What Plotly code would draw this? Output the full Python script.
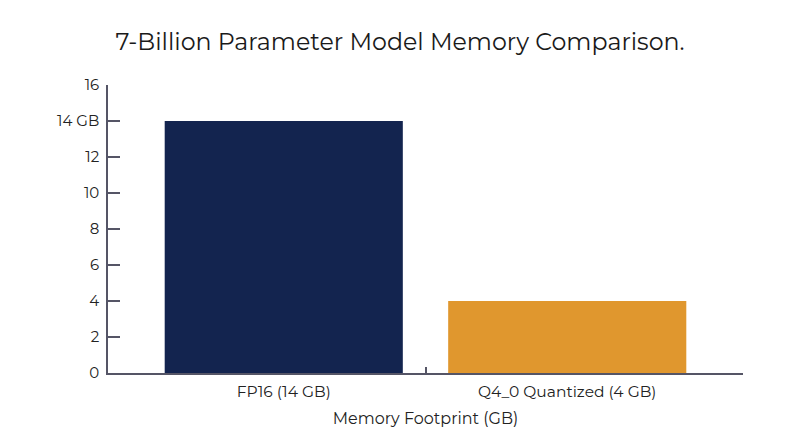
import plotly.graph_objects as go

categories = ["FP16 (14 GB)", "Q4_0 Quantized (4 GB)"]
memory_gb = [14, 4]
bar_colors = ["#13244f", "#e0972e"]
y_tick_vals = [0, 2, 4, 6, 8, 10, 12, 14, 16]
y_tick_text = ["0", "2", "4", "6", "8", "10", "12", "14 GB", "16"]

font_family = "Montserrat, Open Sans, sans-serif"
axis_color = "#555566"
x_range = [-0.62, 1.62]

fig = go.Figure()
fig.add_trace(
    go.Bar(x=categories, y=memory_gb, marker=dict(color=bar_colors, line=dict(width=0)))
)
# empty helper trace so the overlay axis (tick marks only) gets drawn
fig.add_trace(
    go.Scatter(x=x_range, y=[0, 0], xaxis="x2", mode="none", hoverinfo="skip", showlegend=False)
)

# page body has an 8px margin, so the figure fills roughly 784x431
fig.update_layout(
    template="simple_white",
    paper_bgcolor="white",
    plot_bgcolor="white",
    margin=dict(l=100, r=49, t=77, b=66),
    bargap=0.16,
    showlegend=False,
    font=dict(family=font_family, color="#222222"),
    title=dict(
        text="7-Billion Parameter Model Memory Comparison.",
        x=0.5,
        xanchor="center",
        y=0.921,
        yanchor="middle",
        font=dict(size=23.7, family=font_family, color="#1a1a1a"),
    ),
    xaxis=dict(
        range=x_range,
        title=dict(text="Memory Footprint (GB)", font=dict(size=16), standoff=12),
        showline=True,
        linecolor=axis_color,
        linewidth=1.5,
        ticks="",
        ticklabelstandoff=4,
        tickfont=dict(size=15.5),
        showgrid=False,
        zeroline=False,
    ),
    xaxis2=dict(
        overlaying="x",
        anchor="y",
        side="bottom",
        range=x_range,
        tickvals=[0.5, 1.617],
        ticktext=["", ""],
        ticks="inside",
        ticklen=6,
        tickwidth=1.5,
        tickcolor=axis_color,
        showline=False,
        showgrid=False,
        zeroline=False,
    ),
    yaxis=dict(
        range=[0, 16],
        tickvals=y_tick_vals,
        ticktext=y_tick_text,
        showline=True,
        linecolor=axis_color,
        linewidth=1.5,
        ticks="inside",
        ticklen=12,
        tickwidth=1.5,
        tickcolor=axis_color,
        tickfont=dict(size=15),
        ticklabelstandoff=4,
        showgrid=False,
        zeroline=False,
    ),
)

fig.write_html("out.html")
